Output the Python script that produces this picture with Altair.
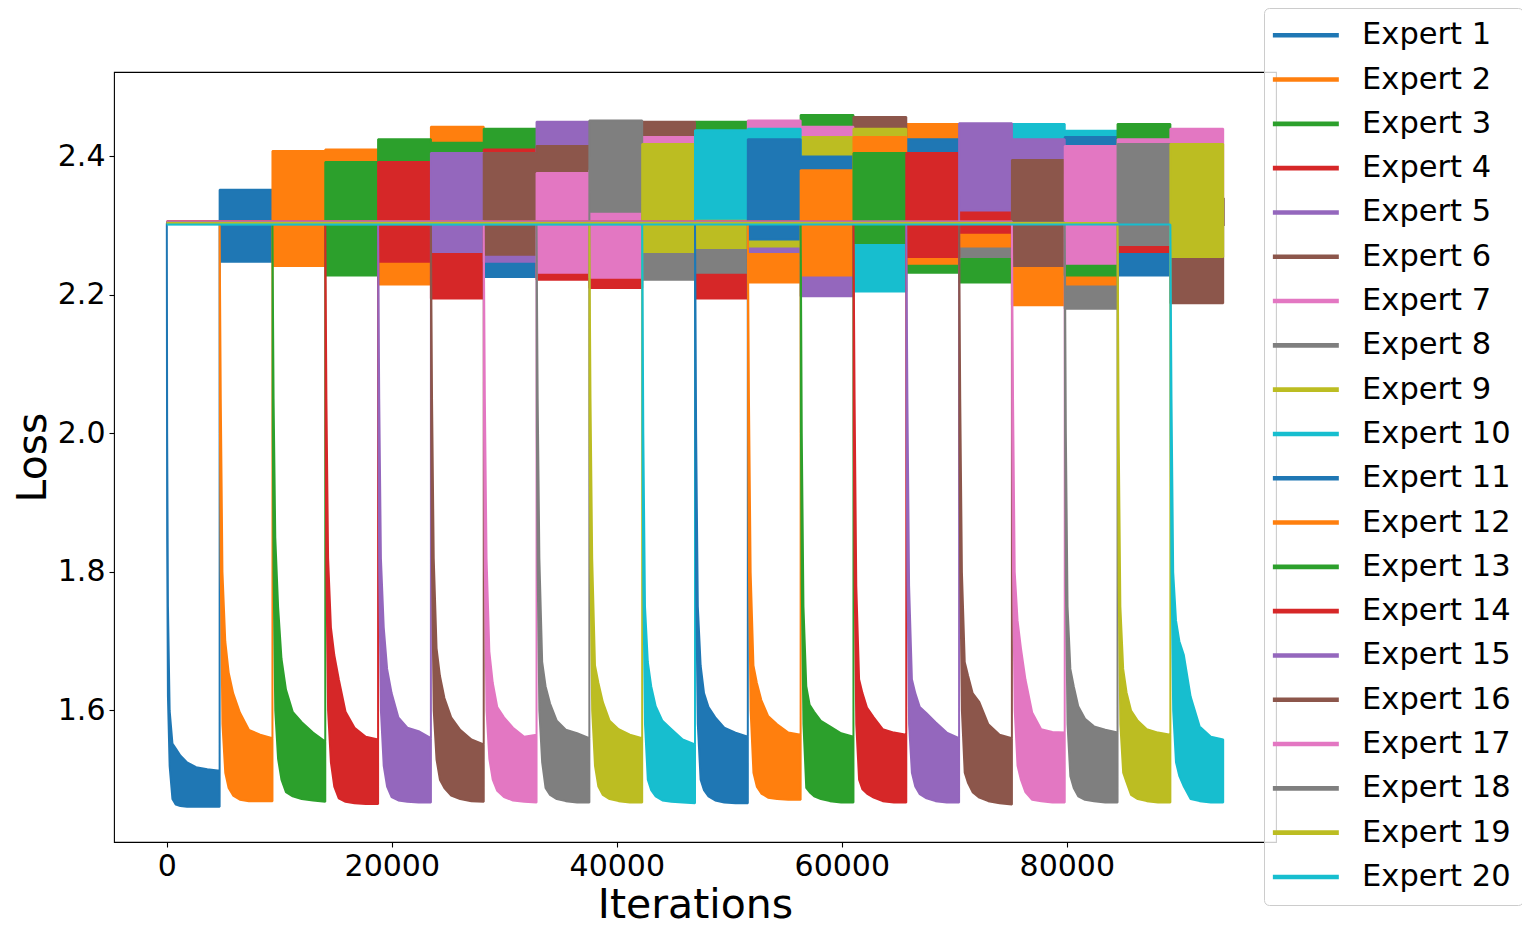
import altair as alt
import pandas as pd

# ---------------- data ----------------
SEG_LEN = 4695  # iterations per task segment
EXPERTS = [f"Expert {i}" for i in range(1, 21)]
COLORS = ["#1f77b4", "#ff7f0e", "#2ca02c", "#d62728", "#9467bd",
          "#8c564b", "#e377c2", "#7f7f7f", "#bcbd22", "#17becf"] * 2

# loss before an expert is trained (flat line ~ln 10)
INIT_LOSS = [2.3035, 2.3045, 2.3040, 2.3065, 2.3050, 2.3055, 2.3060, 2.3045,
             2.3040, 2.3022, 2.3035, 2.3050, 2.3040, 2.3062, 2.3045, 2.3058,
             2.3060, 2.3048, 2.3040, 2.3018]

# training phase: iterations after the segment start, upper / lower envelope
TRAIN_OFFSETS = [30, 100, 250, 500, 800, 1200, 1800, 2600, 3600, 4695]
TRAIN_UPPER = [
    [2.00, 1.75, 1.60, 1.552, 1.545, 1.535, 1.525, 1.518, 1.515, 1.513],
    [2.22, 2.05, 1.80, 1.700, 1.655, 1.625, 1.597, 1.572, 1.565, 1.560],
    [2.22, 2.05, 1.85, 1.750, 1.675, 1.630, 1.598, 1.583, 1.568, 1.555],
    [2.22, 2.05, 1.82, 1.720, 1.680, 1.645, 1.598, 1.575, 1.562, 1.558],
    [2.22, 2.05, 1.82, 1.720, 1.660, 1.625, 1.590, 1.575, 1.570, 1.560],
    [2.22, 2.05, 1.82, 1.690, 1.650, 1.618, 1.590, 1.572, 1.558, 1.551],
    [2.22, 2.05, 1.82, 1.685, 1.640, 1.605, 1.590, 1.575, 1.562, 1.565],
    [2.22, 2.05, 1.82, 1.670, 1.635, 1.610, 1.585, 1.572, 1.567, 1.560],
    [2.22, 2.05, 1.82, 1.665, 1.640, 1.612, 1.585, 1.573, 1.565, 1.560],
    [2.22, 2.00, 1.75, 1.670, 1.635, 1.606, 1.585, 1.573, 1.558, 1.551],
    [2.22, 2.00, 1.75, 1.665, 1.625, 1.605, 1.590, 1.575, 1.568, 1.562],
    [2.22, 2.05, 1.80, 1.665, 1.640, 1.615, 1.592, 1.580, 1.568, 1.565],
    [2.22, 2.00, 1.75, 1.635, 1.608, 1.598, 1.585, 1.577, 1.567, 1.562],
    [2.22, 2.05, 1.78, 1.645, 1.625, 1.604, 1.590, 1.573, 1.568, 1.565],
    [2.22, 2.05, 1.78, 1.645, 1.625, 1.605, 1.596, 1.583, 1.568, 1.560],
    [2.22, 2.05, 1.80, 1.670, 1.650, 1.625, 1.612, 1.580, 1.565, 1.560],
    [2.22, 2.05, 1.80, 1.730, 1.690, 1.645, 1.597, 1.573, 1.569, 1.568],
    [2.22, 2.00, 1.75, 1.660, 1.635, 1.606, 1.588, 1.577, 1.572, 1.568],
    [2.22, 2.00, 1.75, 1.660, 1.626, 1.600, 1.585, 1.573, 1.568, 1.565],
    [2.22, 2.05, 1.80, 1.730, 1.700, 1.680, 1.620, 1.577, 1.562, 1.558],
]
TRAIN_LOWER = [
    [1.85, 1.62, 1.52, 1.472, 1.464, 1.462, 1.461, 1.461, 1.461, 1.461],
    [2.00, 1.80, 1.58, 1.510, 1.488, 1.477, 1.471, 1.469, 1.469, 1.469],
    [2.00, 1.80, 1.60, 1.530, 1.500, 1.482, 1.476, 1.472, 1.470, 1.468],
    [2.00, 1.80, 1.60, 1.525, 1.490, 1.473, 1.468, 1.466, 1.465, 1.465],
    [2.00, 1.80, 1.60, 1.520, 1.490, 1.475, 1.470, 1.468, 1.467, 1.467],
    [2.00, 1.80, 1.60, 1.529, 1.500, 1.488, 1.477, 1.472, 1.469, 1.468],
    [2.00, 1.80, 1.60, 1.530, 1.500, 1.484, 1.475, 1.470, 1.468, 1.467],
    [2.00, 1.80, 1.60, 1.525, 1.488, 1.478, 1.472, 1.469, 1.467, 1.467],
    [2.00, 1.80, 1.60, 1.520, 1.490, 1.478, 1.472, 1.469, 1.467, 1.467],
    [2.00, 1.78, 1.58, 1.500, 1.485, 1.476, 1.470, 1.468, 1.467, 1.466],
    [2.00, 1.78, 1.58, 1.500, 1.485, 1.476, 1.470, 1.467, 1.466, 1.466],
    [2.00, 1.80, 1.60, 1.510, 1.490, 1.480, 1.474, 1.472, 1.471, 1.471],
    [2.00, 1.78, 1.58, 1.488, 1.482, 1.476, 1.472, 1.469, 1.467, 1.467],
    [2.00, 1.80, 1.58, 1.500, 1.486, 1.480, 1.474, 1.469, 1.467, 1.467],
    [2.00, 1.80, 1.58, 1.510, 1.490, 1.479, 1.473, 1.469, 1.467, 1.467],
    [2.00, 1.80, 1.60, 1.510, 1.495, 1.482, 1.474, 1.469, 1.466, 1.464],
    [2.00, 1.80, 1.60, 1.520, 1.500, 1.482, 1.471, 1.469, 1.467, 1.467],
    [2.00, 1.78, 1.58, 1.505, 1.488, 1.476, 1.471, 1.469, 1.467, 1.467],
    [2.00, 1.78, 1.58, 1.510, 1.496, 1.478, 1.472, 1.469, 1.467, 1.467],
    [2.00, 1.80, 1.60, 1.525, 1.505, 1.490, 1.472, 1.469, 1.467, 1.467],
]

# after training: noisy band (low, high) of each expert in each later segment
HIDDEN_BAND = (2.30, 2.34)
POST_BANDS = {
    1: {1: (2.248, 2.352)},
    2: {2: (2.242, 2.408), 1: (2.26, 2.35)},
    3: {3: (2.228, 2.392), 2: (2.26, 2.41)},
    4: {4: (2.248, 2.392), 3: (2.30, 2.425), 2: (2.215, 2.405)},
    5: {5: (2.262, 2.405), 3: (2.28, 2.42), 2: (2.28, 2.443), 4: (2.195, 2.36)},
    6: {6: (2.258, 2.405), 3: (2.28, 2.44), 4: (2.27, 2.41), 5: (2.248, 2.39), 1: (2.226, 2.33)},
    7: {7: (2.232, 2.376), 6: (2.30, 2.415), 5: (2.30, 2.45), 4: (2.222, 2.34)},
    8: {8: (2.32, 2.452), 7: (2.225, 2.38), 4: (2.21, 2.30)},
    9: {9: (2.262, 2.418), 7: (2.30, 2.428), 6: (2.30, 2.45), 8: (2.222, 2.35)},
    10: {10: (2.31, 2.438), 3: (2.30, 2.45), 9: (2.268, 2.33), 8: (2.232, 2.32), 4: (2.195, 2.30)},
    11: {11: (2.28, 2.425), 10: (2.30, 2.44), 7: (2.30, 2.452), 9: (2.27, 2.30), 5: (2.262, 2.30), 2: (2.218, 2.30)},
    12: {12: (2.228, 2.38), 11: (2.30, 2.40), 9: (2.30, 2.428), 7: (2.30, 2.443), 3: (2.30, 2.46), 5: (2.198, 2.30)},
    13: {13: (2.275, 2.405), 12: (2.30, 2.428), 9: (2.30, 2.44), 6: (2.30, 2.457), 10: (2.205, 2.30)},
    14: {14: (2.255, 2.405), 11: (2.30, 2.425), 2: (2.30, 2.447), 12: (2.245, 2.30), 3: (2.232, 2.30)},
    15: {15: (2.322, 2.448), 14: (2.29, 2.335), 13: (2.30, 2.34), 12: (2.27, 2.30), 8: (2.255, 2.30), 3: (2.218, 2.28)},
    16: {16: (2.242, 2.395), 15: (2.30, 2.425), 10: (2.30, 2.447), 12: (2.185, 2.30)},
    17: {17: (2.245, 2.415), 11: (2.30, 2.428), 10: (2.30, 2.437), 8: (2.18, 2.30), 12: (2.215, 2.30), 13: (2.228, 2.30)},
    18: {18: (2.272, 2.418), 17: (2.30, 2.425), 13: (2.30, 2.447), 14: (2.262, 2.30), 11: (2.228, 2.30)},
    19: {19: (2.255, 2.418), 17: (2.30, 2.44), 16: (2.188, 2.30)},
}

X_TICKS = [0, 20000, 40000, 60000, 80000]
Y_TICKS = [1.6, 1.8, 2.0, 2.2, 2.4]

# ---------------- table built from the arrays ----------------
rows = []
n = len(EXPERTS)
for i, name in enumerate(EXPERTS):
    k = i + 1
    init = INIT_LOSS[i]
    start = (k - 1) * SEG_LEN
    if start > 0:
        rows.append((name, 0, init, init))
    rows.append((name, start, init, init))
    for off, up, lo in zip(TRAIN_OFFSETS, TRAIN_UPPER[i], TRAIN_LOWER[i]):
        rows.append((name, start + off, lo, up))
    for s in range(k, n):
        lo, hi = POST_BANDS[s].get(k, HIDDEN_BAND)
        rows.append((name, s * SEG_LEN + 1, lo, hi))
        rows.append((name, (s + 1) * SEG_LEN, lo, hi))
df = pd.DataFrame(rows, columns=["expert", "x", "lo", "hi"])

FONT = "DejaVu Sans"
x_enc = alt.X("x:Q",
              scale=alt.Scale(domain=[-4695, 98595], nice=False, zero=False),
              axis=alt.Axis(values=X_TICKS, format="d", title="Iterations",
                            titlePadding=4))
y_enc = alt.Y("lo:Q",
              scale=alt.Scale(domain=[1.41, 2.522], nice=False, zero=False),
              axis=alt.Axis(values=Y_TICKS, format=".1f", title="Loss",
                            titlePadding=3))
stroke_scale = alt.Scale(domain=EXPERTS, range=COLORS)
legend = alt.Legend(
    title=None, orient="none", legendX=1150, legendY=-64,
    symbolType="M-4,0L4,0", symbolSize=272, symbolStrokeWidth=4.6,
    symbolOffset=14.6, labelOffset=41, labelFontSize=30.5, labelFont=FONT,
    labelColor="black", labelLimit=400, rowPadding=13.3, padding=12,
    fillColor="rgba(255,255,255,0.8)", strokeColor="#cccccc", cornerRadius=5,
)

layers = []
for i, name in enumerate(EXPERTS):
    layers.append(
        alt.Chart()
        .transform_filter(alt.datum.expert == name)
        .mark_area(strokeWidth=2, strokeJoin="bevel", fillOpacity=1,
                   interpolate="linear")
        .encode(
            x=x_enc,
            y=y_enc,
            y2=alt.Y2("hi:Q"),
            fill=alt.value(COLORS[i]),
            stroke=alt.Stroke("expert:N", scale=stroke_scale, legend=legend),
        )
    )

chart = (
    alt.layer(*layers, data=df)
    .properties(
        width=1162, height=770,
        padding={"left": 106, "top": 64, "right": 246, "bottom": 84},
        autosize=alt.AutoSizeParams(type="none"),
        background="white",
    )
    .configure_view(stroke="black", strokeWidth=1.1)
    .configure_axis(
        grid=False, domain=False, tickColor="black", tickSize=5, tickWidth=1.1,
        labelFont=FONT, labelFontSize=30, labelColor="black", labelPadding=4,
        titleFont=FONT, titleFontSize=41, titleFontWeight="normal",
        titleColor="black",
    )
)

chart.save("out.html", embed_options={"renderer": "svg", "actions": False})
